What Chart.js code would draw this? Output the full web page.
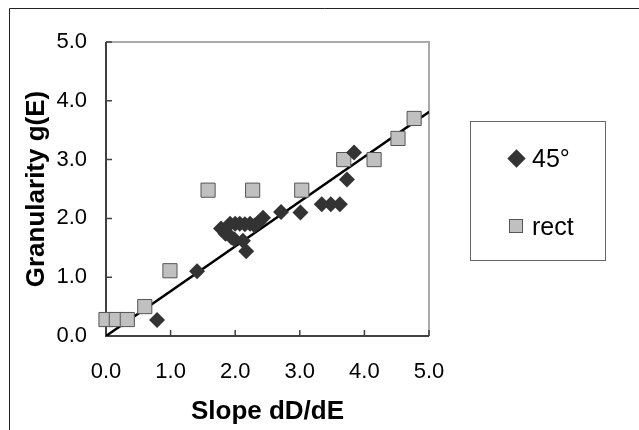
<!DOCTYPE html>
<html>
<head>
<meta charset="utf-8">
<script src="https://cdn.jsdelivr.net/npm/chart.js@4.4.1/dist/chart.umd.min.js"></script>
<style>
  html, body { margin: 0; padding: 0; background: #fff; }
  #wrap { position: relative; width: 639px; height: 430px; overflow: hidden; }
  #legend {
    position: absolute; left: 470px; top: 121px; width: 134px; height: 138px;
    border: 1px solid #666; box-sizing: content-box;
    font-family: "Liberation Sans", Arial, sans-serif; font-size: 25px; color: #000;
  }
  .item { position: absolute; left: 0; height: 30px; width: 134px; }
  .item span.txt { position: absolute; left: 61px; top: 0; line-height: 30px; }
  .mk { position: absolute; }
  .mk.diamond { width: 13px; height: 13px; background: #333; transform: rotate(45deg); left: 38.5px; top: 8.5px; }
  .mk.square { width: 12px; height: 12px; background: #c0c0c0; border: 1px solid #555; left: 38px; top: 8px; }
</style>
</head>
<body>
<div id="wrap">
  <canvas id="chart" width="639" height="430"></canvas>
  <div id="legend"></div>
</div>
<script>
// series
const seriesNames = ['45°', 'rect'];
const diamondX = [0.79, 1.41, 1.78, 1.85, 1.92, 1.94, 1.99, 2.00, 2.07, 2.12, 2.15, 2.17, 2.23, 2.30, 2.36, 2.43, 2.71, 3.01, 3.34, 3.48, 3.62, 3.73, 3.84];
const diamondY = [0.27, 1.10, 1.83, 1.74, 1.91, 1.68, 1.64, 1.91, 1.91, 1.62, 1.90, 1.44, 1.91, 1.88, 1.93, 2.01, 2.11, 2.10, 2.24, 2.24, 2.24, 2.66, 3.12];
const rectX = [0.00, 0.16, 0.33, 0.60, 0.99, 1.58, 2.27, 3.03, 3.68, 4.15, 4.52, 4.77];
const rectY = [0.28, 0.28, 0.28, 0.50, 1.11, 2.48, 2.48, 2.48, 3.00, 3.00, 3.36, 3.70];
// trend lines
const fitX = [0, 5];
const fitY = [0, 3.81];
const fit2Y = [0, 3.82];
// axes
const tickValues = [0, 1, 2, 3, 4, 5];
const xTitle = 'Slope dD/dE';
const yTitle = 'Granularity g(E)';

function toPoints(xs, ys) {
  return xs.map((x, i) => ({ x: x, y: ys[i] }));
}

const FONT = '"Liberation Sans", Arial, sans-serif';

// frame, inward ticks and outer border
const framePlugin = {
  id: 'frame',
  beforeDatasetsDraw(chart) {
    const { ctx, chartArea: a, scales } = chart;
    ctx.save();
    // outer border (top and left only visible)
    ctx.strokeStyle = '#222';
    ctx.lineWidth = 1;
    ctx.beginPath();
    ctx.moveTo(9.5, 440);
    ctx.lineTo(9.5, 8.5);
    ctx.lineTo(650, 8.5);
    ctx.stroke();
    // top and right of plot area
    ctx.strokeStyle = '#aaa';
    ctx.lineWidth = 2;
    ctx.beginPath();
    ctx.moveTo(a.left, a.top);
    ctx.lineTo(a.right, a.top);
    ctx.lineTo(a.right, a.bottom);
    ctx.stroke();
    // axes
    ctx.strokeStyle = '#404040';
    ctx.beginPath();
    ctx.moveTo(a.left, a.top);
    ctx.lineTo(a.left, a.bottom);
    ctx.lineTo(a.right, a.bottom);
    ctx.stroke();
    // inward tick marks
    ctx.lineWidth = 1.5;
    ctx.beginPath();
    tickValues.forEach(v => {
      const px = scales.x.getPixelForValue(v);
      ctx.moveTo(px, a.bottom);
      ctx.lineTo(px, a.bottom - 6);
      const py = scales.y.getPixelForValue(v);
      ctx.moveTo(a.left, py);
      ctx.lineTo(a.left + 6, py);
    });
    ctx.stroke();
    ctx.restore();
  }
};

const ctx = document.getElementById('chart');
new Chart(ctx, {
  type: 'scatter',
  data: {
    datasets: [
      {
        label: 'fit',
        type: 'line',
        data: toPoints(fitX, fitY),
        borderColor: '#000',
        borderWidth: 2.5,
        pointRadius: 0,
        fill: false,
        order: 3
      },
      {
        label: 'fit2',
        type: 'line',
        data: toPoints(fitX, fit2Y),
        borderColor: '#000',
        borderWidth: 1.2,
        borderDash: [2, 5],
        pointRadius: 0,
        fill: false,
        order: 4
      },
      {
        label: seriesNames[0],
        data: toPoints(diamondX, diamondY),
        pointStyle: 'rectRot',
        pointRadius: 8,
        pointBackgroundColor: '#333',
        pointBorderColor: '#333',
        pointBorderWidth: 0,
        clip: false,
        order: 1
      },
      {
        label: seriesNames[1],
        data: toPoints(rectX, rectY),
        pointStyle: 'rect',
        pointRadius: 10,
        pointBackgroundColor: '#c0c0c0',
        pointBorderColor: '#555',
        pointBorderWidth: 1,
        clip: false,
        order: 2
      }
    ]
  },
  options: {
    responsive: false,
    animation: false,
    layout: { padding: { left: 10, top: 42, right: 210, bottom: 0 } },
    plugins: {
      legend: { display: false },
      tooltip: { enabled: false }
    },
    scales: {
      x: {
        type: 'linear',
        min: 0,
        max: 5,
        afterBuildTicks: s => { s.ticks = tickValues.map(v => ({ value: v })); },
        afterFit: s => { s.height = 94; },
        grid: { display: false, drawTicks: false },
        border: { display: false },
        ticks: {
          callback: v => v.toFixed(1),
          color: '#000',
          padding: 23,
          maxRotation: 0,
          font: { family: FONT, size: 22 }
        },
        title: {
          display: true,
          text: xTitle,
          color: '#000',
          padding: { top: 0, bottom: 3 },
          font: { family: FONT, size: 26, weight: 'bold' }
        }
      },
      y: {
        type: 'linear',
        min: 0,
        max: 5,
        afterBuildTicks: s => { s.ticks = tickValues.map(v => ({ value: v })); },
        afterFit: s => { s.width = 96; },
        grid: { display: false, drawTicks: false },
        border: { display: false },
        ticks: {
          callback: v => v.toFixed(1),
          color: '#000',
          padding: 19,
          font: { family: FONT, size: 22 }
        },
        title: {
          display: true,
          text: yTitle,
          color: '#000',
          padding: { top: 11, bottom: 0 },
          font: { family: FONT, size: 26, weight: 'bold' }
        }
      }
    }
  },
  plugins: [framePlugin]
});

// legend box
const legend = document.getElementById('legend');
const legendRows = [
  { name: seriesNames[0], cls: 'diamond', top: 21 },
  { name: seriesNames[1], cls: 'square', top: 89 }
];
legendRows.forEach(r => {
  const item = document.createElement('div');
  item.className = 'item';
  item.style.top = r.top + 'px';
  item.innerHTML = '<div class="mk ' + r.cls + '"></div><span class="txt">' + r.name + '</span>';
  legend.appendChild(item);
});
</script>
</body>
</html>
